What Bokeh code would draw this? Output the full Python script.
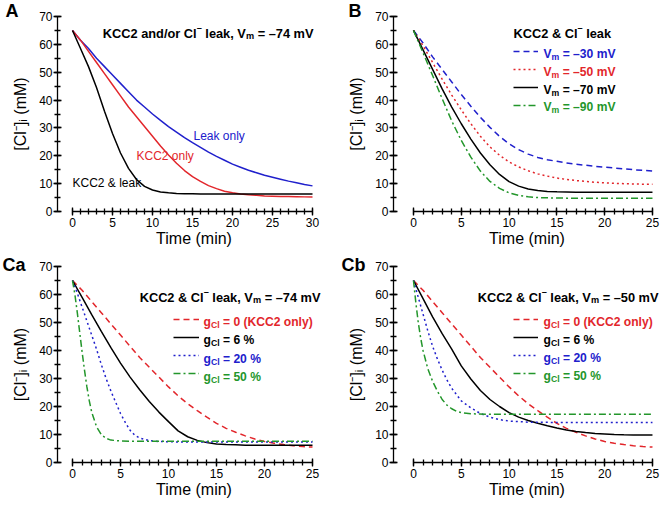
from bokeh.plotting import figure
from bokeh.layouts import gridplot
from bokeh.models import Label, Legend, LegendItem, SingleIntervalTicker, Range1d
from bokeh.embed import file_html
from bokeh.resources import INLINE

# ---------------- data ----------------
a_time = list(range(0, 31))
a_kcc2_leak = [65, 58.5, 52, 44.5, 36, 28, 21, 15.5, 11.5, 9, 7.7, 7, 6.7, 6.5, 6.4, 6.35,
               6.3, 6.3, 6.3, 6.3, 6.3, 6.3, 6.3, 6.3, 6.3, 6.3, 6.3, 6.3, 6.3, 6.3, 6.3]
a_kcc2_only = [65, 61.5, 57.5, 53.5, 49.5, 45.5, 41.5, 37.5, 34, 30.5, 27, 23.5, 20.3, 17.3, 14.7,
               12.5, 10.8, 9.3, 8.2, 7.3, 6.7, 6.3, 6.0, 5.8, 5.6, 5.5, 5.4, 5.35, 5.3, 5.25, 5.2]
a_leak_only = [65, 61.5, 58.5, 55, 52, 49, 46, 43, 40, 37.5, 35, 32.7, 30.5, 28.5, 26.5, 24.7,
               23, 21.3, 19.8, 18.4, 17, 15.9, 14.8, 13.9, 13, 12.3, 11.6, 10.9, 10.3, 9.7, 9.2]
a_curve_labels = ["KCC2 & leak", "KCC2 only", "Leak only"]

b_time = list(range(0, 26))
b_vm30 = [65, 60.5, 55.5, 51, 46.5, 42, 37.8, 33.8, 30.2, 27, 24.3, 22.2, 20.6, 19.4, 18.6, 18,
          17.4, 17, 16.6, 16.2, 15.9, 15.6, 15.3, 15, 14.8, 14.5]
b_vm50 = [65, 59.5, 53.5, 47.5, 41.8, 36.5, 31.5, 27, 23.2, 20.2, 17.8, 16, 14.6, 13.5, 12.7, 12,
          11.5, 11.1, 10.8, 10.5, 10.3, 10.1, 10, 9.9, 9.8, 9.8]
b_vm70 = [65, 58, 51, 44, 37.5, 31.5, 26, 21, 16.8, 13.3, 10.7, 9.1, 8.1, 7.5, 7.2, 7.05, 7, 6.95,
          6.9, 6.9, 6.9, 6.9, 6.9, 6.9, 6.9, 6.9]
b_vm90 = [65, 57, 48.8, 40.5, 32.5, 25.5, 19.5, 14.5, 10.8, 8.3, 6.7, 5.8, 5.3, 5, 4.9, 4.85, 4.8,
          4.8, 4.8, 4.8, 4.8, 4.8, 4.8, 4.8, 4.8, 4.8]
b_vm_values = ["\u201330", "\u201350", "\u201370", "\u201390"]

ca_time = list(range(0, 26))
ca_g0 = [65, 61.5, 57.5, 53.5, 49.5, 45.5, 41.5, 37.5, 34, 30.5, 27, 23.8, 21, 18.5, 16.2, 14,
         12.2, 10.8, 9.5, 8.4, 7.5, 6.9, 6.4, 6, 5.7, 5.5]
ca_g6 = [65, 59, 52.8, 46.8, 41, 35.5, 30.5, 26, 21.8, 18, 14.6, 11.3, 9.2, 7.9, 7.1, 6.6, 6.4,
         6.3, 6.2, 6.2, 6.2, 6.2, 6.2, 6.2, 6.2, 6.2]
ca_time_g20 = [0, 0.5, 1, 1.5, 2, 2.5, 3, 3.5, 4, 4.5, 5, 5.5, 6, 6.5, 7, 8, 9, 10, 12, 15, 20, 25]
ca_g20 = [65, 60.5, 55.5, 50.5, 45.5, 40.5, 35, 30, 25.5, 21.5, 17.5, 14.3, 11.5, 9.7, 8.7, 7.8,
          7.5, 7.4, 7.3, 7.3, 7.3, 7.3]
ca_time_g50 = [0, 0.25, 0.5, 0.75, 1, 1.25, 1.5, 1.75, 2, 2.5, 3, 3.5, 4, 5, 6, 8, 10, 15, 20, 25]
ca_g50 = [65, 60, 53.5, 46.5, 39.5, 33, 27, 22, 18, 12.8, 10, 8.6, 8, 7.7, 7.6, 7.6, 7.6, 7.6,
          7.6, 7.6]

cb_time = list(range(0, 26))
cb_g0 = [65, 61.5, 57.5, 53.5, 49.5, 45.5, 41.5, 37.5, 34, 30.5, 27, 23.8, 21, 18.5, 16.2, 14,
         12.2, 10.8, 9.5, 8.4, 7.5, 6.9, 6.4, 6, 5.7, 5.5]
cb_g6 = [65, 58.5, 52, 46, 40.5, 34.5, 29.8, 25.7, 22.5, 20, 17.8, 16.2, 15, 14, 13.1, 12.3,
         11.6, 11.1, 10.7, 10.4, 10.2, 10, 9.9, 9.85, 9.8, 9.8]
cb_time_g20 = [0, 0.5, 1, 1.5, 2, 2.5, 3, 3.5, 4, 5, 6, 7, 8, 9, 10, 12, 15, 20, 25]
cb_g20 = [65, 59, 53, 47, 41.5, 37, 33, 29.5, 26.5, 22, 19.5, 17.5, 16.2, 15.3, 14.8, 14.4,
          14.3, 14.3, 14.3]
cb_time_g50 = [0, 0.25, 0.5, 0.75, 1, 1.5, 2, 2.5, 3, 3.5, 4, 4.5, 5, 6, 8, 10, 15, 20, 25]
cb_g50 = [65, 57, 50, 44.5, 40, 33.5, 29, 25.5, 22.5, 20.5, 19.2, 18.3, 17.8, 17.4, 17.2, 17.2,
          17.2, 17.2, 17.2]
c_g_values = ["0 (KCC2 only)", "6 %", "20 %", "50 %"]
panel_letters = ["A", "B", "Ca", "Cb"]

# ---------------- styling ----------------
FONT = "Liberation Sans"
BLUE = "#2020cc"
RED = "#e2262b"
GREEN = "#23962b"
BLACK = "#000000"
DASH = "6 4"
DOT = "2 3"
DASHDOT = "7 3 2 3"

W, H = 330, 253
TEXT_DY = -4     # empirical baseline correction (px)
LEG_DY = -2

# L/T/B borders (px), x0 = x-range start, k = px per minute; frame runs to the right edge
GEOM = {
    "A": dict(ox=0, oy=0, L=57, T=16, B=42, x0=-1.875, k=8.0, letter_x=5, standoff=-9),
    "B": dict(ox=330, oy=0, L=63, T=16, B=42, x0=-2.09, k=9.56, letter_x=348, standoff=-9),
    "Ca": dict(ox=0, oy=253, L=57, T=13, B=44, x0=-1.5625, k=9.6, letter_x=2, standoff=-17),
    "Cb": dict(ox=330, oy=253, L=63, T=13, B=44, x0=-2.09, k=9.56, letter_x=341, standoff=-17),
}
for _g in GEOM.values():
    _g["x1"] = _g["x0"] + (W - _g["L"]) / _g["k"]

BOLD_W = {" ": 278, "&": 722, "(": 333, ")": 333, "%": 889, ",": 278, "/": 278, "=": 584,
          "\u2013": 556, "C": 722, "K": 722, "V": 667, "a": 556, "b": 611, "d": 611, "e": 556,
          "g": 611, "k": 556, "l": 278, "m": 889, "n": 611, "o": 611, "r": 389, "y": 556}
REG_W = {" ": 278, "&": 667, "C": 722, "K": 667, "L": 556, "a": 556, "b": 556, "e": 556,
         "k": 500, "l": 222, "n": 556, "o": 556, "y": 500}


def tw(s, size, bold):
    t = BOLD_W if bold else REG_W
    return sum(t.get(c, 556) for c in s) * size / 1000.0


def ref_to_data(g, rx, ry):
    px = rx - g["ox"]
    py = ry - g["oy"]
    fw = W - g["L"]
    fh = H - g["T"] - g["B"]
    x = g["x0"] + (px - g["L"]) / fw * (g["x1"] - g["x0"])
    y = 70.0 * (1 - (py - g["T"]) / fh)
    return x, y


def rich(p, g, rx, ry, pieces, size, color, align="left"):
    x, y = ref_to_data(g, rx, ry + TEXT_DY)
    items = []
    off = 0.0
    for text, mode, bold in pieces:
        sz = size * 0.72 if mode in ("sub", "sup") else size
        lead = len(text) - len(text.lstrip(" "))
        trail = len(text) - len(text.rstrip(" "))
        core = text.strip(" ")
        off += tw(" ", sz, bold) * lead
        dy = -0.24 * size if mode == "sub" else (0.42 * size if mode == "sup" else 0)
        items.append((off, dy, core, sz, bold))
        off += tw(core, sz, bold) + tw(" ", sz, bold) * trail
    shift = -off if align == "right" else 0
    for o, dy, core, sz, bold in items:
        p.add_layout(Label(x=x, y=y, x_offset=o + shift, y_offset=dy, text=core,
                           text_font=FONT, text_font_size="%.1fpx" % sz,
                           text_font_style="bold" if bold else "normal",
                           text_color=color, text_baseline="alphabetic", text_align="left"))


def make_fig(g, xmax, letter):
    p = figure(width=W, height=H, output_backend="svg", toolbar_location=None, tools="",
               x_range=Range1d(g["x0"], g["x1"]), y_range=Range1d(0, 70),
               min_border_left=g["L"], min_border_right=0,
               min_border_top=g["T"], min_border_bottom=g["B"])
    p.outline_line_color = None
    p.grid.visible = False
    # panel letter as the figure title, pulled into the top-left corner
    p.title.text = letter
    p.title.align = "left"
    p.title.offset = (g["letter_x"] - g["ox"]) - g["L"]
    p.title.standoff = g["standoff"]
    p.title.vertical_align = "bottom"
    p.title.text_font = FONT
    p.title.text_font_size = "18px"
    p.title.text_font_style = "bold"
    p.title.text_color = BLACK
    for ax in (p.xaxis[0], p.yaxis[0]):
        ax.axis_line_width = 1.3
        ax.major_tick_line_width = 1.3
        ax.minor_tick_line_width = 1.3
        ax.axis_line_color = BLACK
        ax.major_tick_line_color = BLACK
        ax.minor_tick_line_color = BLACK
        ax.major_label_text_font = FONT
        ax.major_label_text_font_size = "12px"
        ax.major_label_text_color = BLACK
        ax.axis_label_text_font = FONT
        ax.axis_label_text_font_size = "16px"
        ax.axis_label_text_font_style = "normal"
        ax.axis_label_text_color = BLACK
        ax.major_tick_in = 4
        ax.major_tick_out = 4
        ax.minor_tick_in = 3
        ax.minor_tick_out = 3
        ax.major_label_standoff = 1
    xa = p.xaxis[0]
    xa.bounds = (0, xmax)
    xa.ticker = SingleIntervalTicker(interval=5, num_minor_ticks=5)
    xa.axis_label = "Time (min)"
    xa.axis_label_standoff = 0
    xa.major_label_standoff = 2
    ya = p.yaxis[0]
    ya.bounds = (0, 70)
    ya.ticker = SingleIntervalTicker(interval=10, num_minor_ticks=2)
    ya.axis_label = "[Cl\u207b]\u1d62 (mM)"
    ya.axis_label_standoff = 7
    return p


def add_legend(p, g, renderers, sample_left_ref, first_center_ref, glyph_w, row_h):
    fh = H - g["T"] - g["B"]
    sx = (sample_left_ref - g["ox"]) - g["L"]
    top_center = (first_center_ref + LEG_DY - g["oy"]) - g["T"]
    bottom = top_center - row_h / 2.0 + row_h * len(renderers)
    sy = fh - bottom
    leg = Legend(items=[LegendItem(label="", renderers=[r]) for r in renderers],
                 location=(sx, sy), orientation="vertical", glyph_width=glyph_w,
                 glyph_height=row_h, label_height=row_h, label_width=0, label_standoff=0,
                 spacing=0, padding=0, margin=0, border_line_color=None,
                 background_fill_alpha=0, label_text_font_size="8px")
    p.add_layout(leg)


LW = 1.5
TS = 12.8   # heading size
LS = 12.1   # legend text size

# ---------------- panel A ----------------
gA = GEOM["A"]
pA = make_fig(gA, 30, panel_letters[0])
pA.line(a_time, a_leak_only, line_color=BLUE, line_width=LW)
pA.line(a_time, a_kcc2_only, line_color=RED, line_width=LW)
pA.line(a_time, a_kcc2_leak, line_color=BLACK, line_width=LW)
rich(pA, gA, 313, 36.5, [("KCC2 and/or Cl", "n", True), ("\u2013", "sup", True),
                         (" leak, V", "n", True), ("m", "sub", True),
                         (" = \u201374 mV", "n", True)], TS, BLACK, align="right")
rich(pA, gA, 193, 139.5, [(a_curve_labels[2], "n", False)], 12, BLUE)
rich(pA, gA, 136, 159.5, [(a_curve_labels[1], "n", False)], 12, RED)
rich(pA, gA, 72, 186.5, [(a_curve_labels[0], "n", False)], 12, BLACK)

# ---------------- panel B ----------------
gB = GEOM["B"]
pB = make_fig(gB, 25, panel_letters[1])
rb1 = pB.line(b_time, b_vm30, line_color=BLUE, line_width=LW, line_dash=DASH)
rb2 = pB.line(b_time, b_vm50, line_color=RED, line_width=LW, line_dash=DOT)
rb3 = pB.line(b_time, b_vm70, line_color=BLACK, line_width=LW)
rb4 = pB.line(b_time, b_vm90, line_color=GREEN, line_width=LW, line_dash=DASHDOT)
rich(pB, gB, 513, 37, [("KCC2 & Cl", "n", True), ("\u2013", "sup", True),
                       (" leak", "n", True)], TS, BLACK)
add_legend(pB, gB, [rb1, rb2, rb3, rb4], 513, 53, 25, 18)
for i, (col, v) in enumerate(zip([BLUE, RED, BLACK, GREEN], b_vm_values)):
    rich(pB, gB, 543, 57.5 + i * 17.8, [("V", "n", True), ("m", "sub", True),
                                         (" = " + v + " mV", "n", True)], LS, col)

# ---------------- panel Ca ----------------
gCa = GEOM["Ca"]
pCa = make_fig(gCa, 25, panel_letters[2])
rca1 = pCa.line(ca_time, ca_g0, line_color=RED, line_width=LW, line_dash=DASH)
rca2 = pCa.line(ca_time, ca_g6, line_color=BLACK, line_width=LW)
rca3 = pCa.line(ca_time_g20, ca_g20, line_color=BLUE, line_width=LW, line_dash=DOT)
rca4 = pCa.line(ca_time_g50, ca_g50, line_color=GREEN, line_width=LW, line_dash=DASHDOT)
rich(pCa, gCa, 320, 300.5, [("KCC2 & Cl", "n", True), ("\u2013", "sup", True),
                            (" leak, V", "n", True), ("m", "sub", True),
                            (" = \u201374 mV", "n", True)], TS, BLACK, align="right")
add_legend(pCa, gCa, [rca1, rca2, rca3, rca4], 173, 321, 26, 18)
for i, (col, v) in enumerate(zip([RED, BLACK, BLUE, GREEN], c_g_values)):
    rich(pCa, gCa, 203, 325.5 + i * 18.3, [("g", "n", True), ("Cl", "sub", True),
                                           (" = " + v, "n", True)], LS, col)

# ---------------- panel Cb ----------------
gCb = GEOM["Cb"]
pCb = make_fig(gCb, 25, panel_letters[3])
rcb1 = pCb.line(cb_time, cb_g0, line_color=RED, line_width=LW, line_dash=DASH)
rcb2 = pCb.line(cb_time, cb_g6, line_color=BLACK, line_width=LW)
rcb3 = pCb.line(cb_time_g20, cb_g20, line_color=BLUE, line_width=LW, line_dash=DOT)
rcb4 = pCb.line(cb_time_g50, cb_g50, line_color=GREEN, line_width=LW, line_dash=DASHDOT)
rich(pCb, gCb, 658, 300.5, [("KCC2 & Cl", "n", True), ("\u2013", "sup", True),
                            (" leak, V", "n", True), ("m", "sub", True),
                            (" = \u201350 mV", "n", True)], TS, BLACK, align="right")
add_legend(pCb, gCb, [rcb1, rcb2, rcb3, rcb4], 513, 321, 25, 18)
for i, (col, v) in enumerate(zip([RED, BLACK, BLUE, GREEN], c_g_values)):
    rich(pCb, gCb, 543, 325.5 + i * 18, [("g", "n", True), ("Cl", "sub", True),
                                         (" = " + v, "n", True)], LS, col)

grid = gridplot([[pA, pB], [pCa, pCb]], toolbar_location=None)

open("out.html", "w").write(file_html(grid, INLINE))
